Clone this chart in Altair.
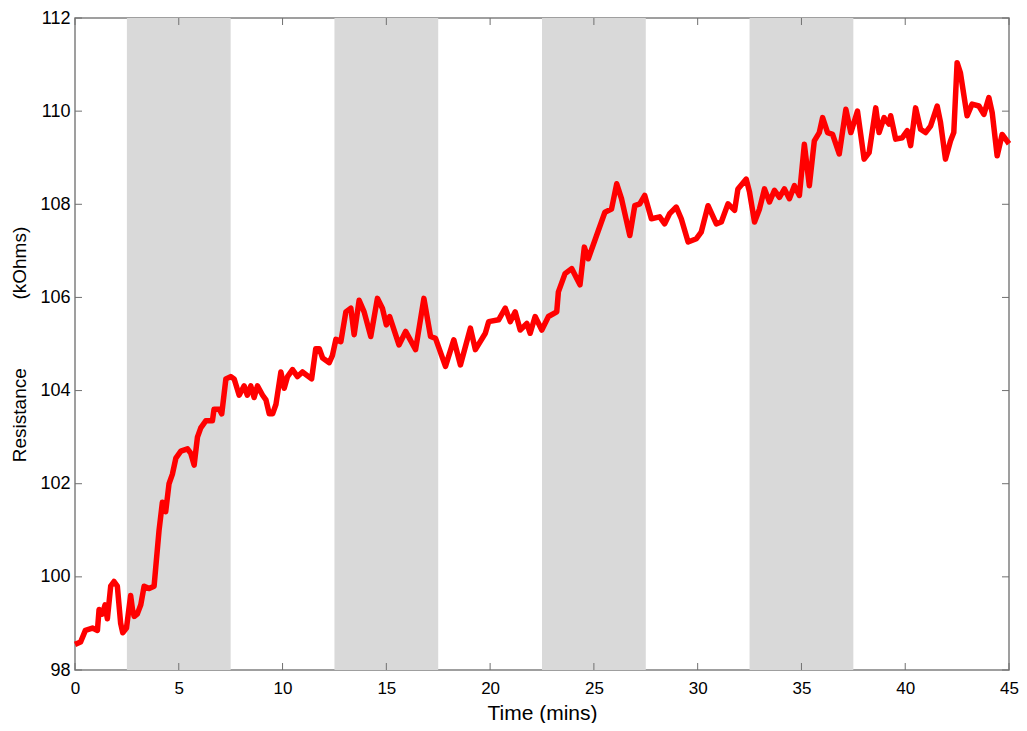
import altair as alt
import pandas as pd

# Traced data (Time in minutes, Resistance in kOhms)
time_min = [
    0.0, 0.27, 0.5, 0.84, 1.08, 1.16, 1.32, 1.45, 1.56, 1.72, 1.88, 2.04, 2.2, 2.3, 2.48,
    2.68, 2.77, 2.85, 3.0, 3.17, 3.33, 3.57, 3.81, 3.89, 4.05, 4.21, 4.37, 4.53, 4.69, 4.86,
    5.1, 5.42, 5.58, 5.74, 5.9, 6.06, 6.3, 6.62, 6.7, 6.95, 7.07, 7.27, 7.5, 7.67, 7.91,
    8.15, 8.3, 8.47, 8.63, 8.79, 9.04, 9.2, 9.36, 9.52, 9.68, 9.92, 10.08, 10.24, 10.48, 10.72,
    10.96, 11.4, 11.6, 11.77, 11.93, 12.25, 12.4, 12.57, 12.81, 13.05, 13.29, 13.45, 13.69, 13.93,
    14.25, 14.57, 14.81, 15.0, 15.16, 15.61, 15.93, 16.41, 16.81, 17.13, 17.37, 17.85, 18.25,
    18.57, 19.05, 19.29, 19.77, 19.93, 20.41, 20.73, 20.97, 21.21, 21.45, 21.77, 21.93, 22.17,
    22.49, 22.81, 23.21, 23.29, 23.61, 23.93, 24.33, 24.54, 24.73, 25.13, 25.53, 25.85, 26.1,
    26.33, 26.73, 26.97, 27.21, 27.45, 27.77, 28.17, 28.41, 28.65, 28.97, 29.21, 29.54, 29.94,
    30.17, 30.5, 30.9, 31.14, 31.46, 31.78, 31.94, 32.34, 32.5, 32.74, 32.98, 33.22, 33.46,
    33.7, 33.94, 34.18, 34.42, 34.66, 34.9, 35.14, 35.38, 35.62, 35.86, 36.02, 36.26, 36.5,
    36.82, 37.14, 37.38, 37.7, 38.02, 38.26, 38.58, 38.74, 38.98, 39.22, 39.3, 39.54, 39.86,
    40.1, 40.26, 40.5, 40.74, 40.98, 41.22, 41.54, 41.7, 41.94, 42.18, 42.34, 42.5, 42.66,
    42.98, 43.22, 43.55, 43.79, 44.03, 44.19, 44.43, 44.67, 44.9, 45.0,
]
resistance = [
    98.55, 98.6, 98.85, 98.9, 98.85, 99.3, 99.2, 99.4, 99.1, 99.8, 99.9, 99.8, 99.0, 98.8, 98.9,
    99.6, 99.3, 99.15, 99.2, 99.4, 99.8, 99.75, 99.8, 100.2, 101.0, 101.6, 101.4, 102.0, 102.2, 102.55,
    102.7, 102.75, 102.65, 102.4, 103.0, 103.2, 103.35, 103.35, 103.6, 103.6, 103.5, 104.25, 104.3, 104.25, 103.9,
    104.1, 103.9, 104.1, 103.85, 104.1, 103.9, 103.8, 103.5, 103.5, 103.7, 104.4, 104.05, 104.3, 104.45, 104.3,
    104.4, 104.25, 104.9, 104.9, 104.7, 104.6, 104.75, 105.1, 105.05, 105.69, 105.77, 105.2, 105.94, 105.69,
    105.16, 105.98, 105.77, 105.41, 105.59, 104.98, 105.27, 104.88, 105.98, 105.16, 105.12, 104.52, 105.09,
    104.55, 105.34, 104.88, 105.23, 105.48, 105.52, 105.77, 105.48, 105.69, 105.3, 105.44, 105.23, 105.59,
    105.3, 105.59, 105.69, 106.12, 106.51, 106.62, 106.27, 107.08, 106.83, 107.33, 107.83, 107.9, 108.44,
    108.12, 107.33, 107.97, 108.01, 108.19, 107.69, 107.73, 107.58, 107.8, 107.94, 107.69, 107.19, 107.26,
    107.4, 107.97, 107.58, 107.62, 108.01, 107.87, 108.33, 108.54, 108.26, 107.62, 107.9, 108.33, 108.05,
    108.3, 108.15, 108.33, 108.12, 108.4, 108.19, 109.29, 108.4, 109.36, 109.54, 109.86, 109.54, 109.5,
    109.08, 110.04, 109.54, 110.0, 108.97, 109.11, 110.07, 109.54, 109.86, 109.72, 109.9, 109.4, 109.43,
    109.58, 109.26, 110.07, 109.61, 109.54, 109.68, 110.11, 109.76, 108.97, 109.36, 109.54, 111.04, 110.82,
    109.9, 110.15, 110.11, 109.93, 110.29, 109.97, 109.04, 109.5, 109.36, 109.3,
]

band_start = [2.5, 12.5, 22.5, 32.5]
band_end = [7.5, 17.5, 27.5, 37.5]

x_ticks = [0, 5, 10, 15, 20, 25, 30, 35, 40, 45]
y_ticks = [98, 100, 102, 104, 106, 108, 110, 112]

W, H = 934, 652
FONT = "Liberation Sans"

df = pd.DataFrame({"t": time_min, "r": resistance})
bands = pd.DataFrame({"t": band_start, "e": band_end})
xt = pd.DataFrame({"t": x_ticks})
yt = pd.DataFrame({"r": y_ticks})

xscale = alt.Scale(domain=[0, 45], nice=False, zero=False)
yscale = alt.Scale(domain=[98, 112], nice=False, zero=False)
xaxis = alt.Axis(values=x_ticks, title="Time (mins)", format="d")
yaxis = alt.Axis(values=y_ticks, title="Resistance" + "\u00a0" * 13 + "(kOhms)", format="d")

line = alt.Chart(df).mark_line(color="#ff0000", strokeWidth=5.5, strokeJoin="round").encode(
    x=alt.X("t:Q", scale=xscale, axis=xaxis),
    y=alt.Y("r:Q", scale=yscale, axis=yaxis),
)

band_layer = alt.Chart(bands).mark_rect(color="#d9d9d9").encode(
    x=alt.X("t:Q", scale=xscale, axis=xaxis),
    x2="e:Q",
)

tick_color = "#707070"
xt_bottom = alt.Chart(xt).mark_rule(color=tick_color, strokeWidth=1).encode(
    x=alt.X("t:Q", scale=xscale, axis=xaxis), y=alt.value(H), y2=alt.value(H - 7)
)
xt_top = alt.Chart(xt).mark_rule(color=tick_color, strokeWidth=1).encode(
    x=alt.X("t:Q", scale=xscale, axis=xaxis), y=alt.value(0), y2=alt.value(7)
)
yt_left = alt.Chart(yt).mark_rule(color=tick_color, strokeWidth=1).encode(
    y=alt.Y("r:Q", scale=yscale, axis=yaxis), x=alt.value(0), x2=alt.value(7)
)
yt_right = alt.Chart(yt).mark_rule(color=tick_color, strokeWidth=1).encode(
    y=alt.Y("r:Q", scale=yscale, axis=yaxis), x=alt.value(W), x2=alt.value(W - 7)
)

chart = (
    alt.layer(band_layer, line, xt_bottom, xt_top, yt_left, yt_right)
    .properties(
        width=W,
        height=H,
        autosize=alt.AutoSizeParams(type="none"),
        padding={"left": 67, "top": 10, "right": 10, "bottom": 53},
        background="white",
    )
    .configure_view(stroke="#808080", strokeWidth=1.5)
    .configure_axis(
        grid=False,
        ticks=False,
        domain=False,
        labelFlush=False,
        labelFont=FONT,
        titleFont=FONT,
        labelColor="#000000",
        titleColor="#000000",
        titleFontWeight="normal",
    )
    .configure_axisX(labelFontSize=17, labelPadding=10, titleFontSize=21, titlePadding=6)
    .configure_axisY(labelFontSize=18, labelPadding=5, titleFontSize=19, titlePadding=10)
)

chart.save("out.html", embed_options={"renderer": "svg", "actions": False})
